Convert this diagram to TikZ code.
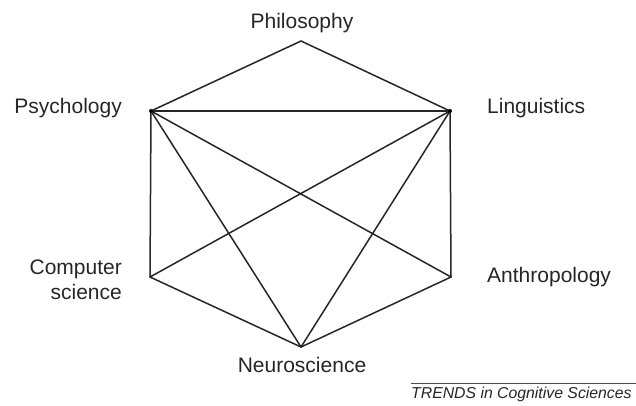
\documentclass[tikz,border=0pt]{standalone}
\usepackage{fontspec}
\setmainfont{Liberation Sans}
\begin{document}
\begin{tikzpicture}[x=1pt,y=-1pt,
  edge/.style={draw=black!85,line width=1.5pt,line cap=round,line join=round},
  lab/.style={inner sep=0pt,font=\fontsize{21}{24.5}\selectfont,text=black!85}]
\useasboundingbox (0,0) rectangle (636,405);
\coordinate (phi) at (301,41);
\coordinate (psy) at (151,111);
\coordinate (lin) at (450,111);
\coordinate (com) at (150,277);
\coordinate (ant) at (451,277);
\coordinate (neu) at (301,347);
\draw[edge] (phi) -- (psy);
\draw[edge] (phi) -- (lin);
\draw[edge] (psy) -- (lin);
\draw[edge] (psy) -- (com);
\draw[edge] (psy) -- (neu);
\draw[edge] (psy) -- (ant);
\draw[edge] (lin) -- (com);
\draw[edge] (lin) -- (neu);
\draw[edge] (lin) -- (ant);
\draw[edge] (com) -- (neu);
\draw[edge] (ant) -- (neu);
\fill[black] (psy) circle (2);
\fill[black] (lin) circle (2);
\node[lab] (tphi) at (302,23) {Philosophy};
\node[lab,anchor=east] (tpsy) at (122,108) {Psychology};
\node[lab,anchor=west] (tlin) at (487,108) {Linguistics};
\node[lab,anchor=east,align=right] (tcom) at (122,280) {Computer\\science};
\node[lab,anchor=west] (tant) at (487,277) {Anthropology};
\node[lab] (tneu) at (302,365) {Neuroscience};
\node[inner sep=0pt,anchor=west,font=\fontsize{15.8}{19}\selectfont\itshape,text=black!85] (trends) at (411,394) {TRENDS in Cognitive Sciences};
\draw[black!70,line width=0.8pt] (trends.north west) ++(0,-3) coordinate (rl) -- (rl -| 640,0);
\end{tikzpicture}
\end{document}
